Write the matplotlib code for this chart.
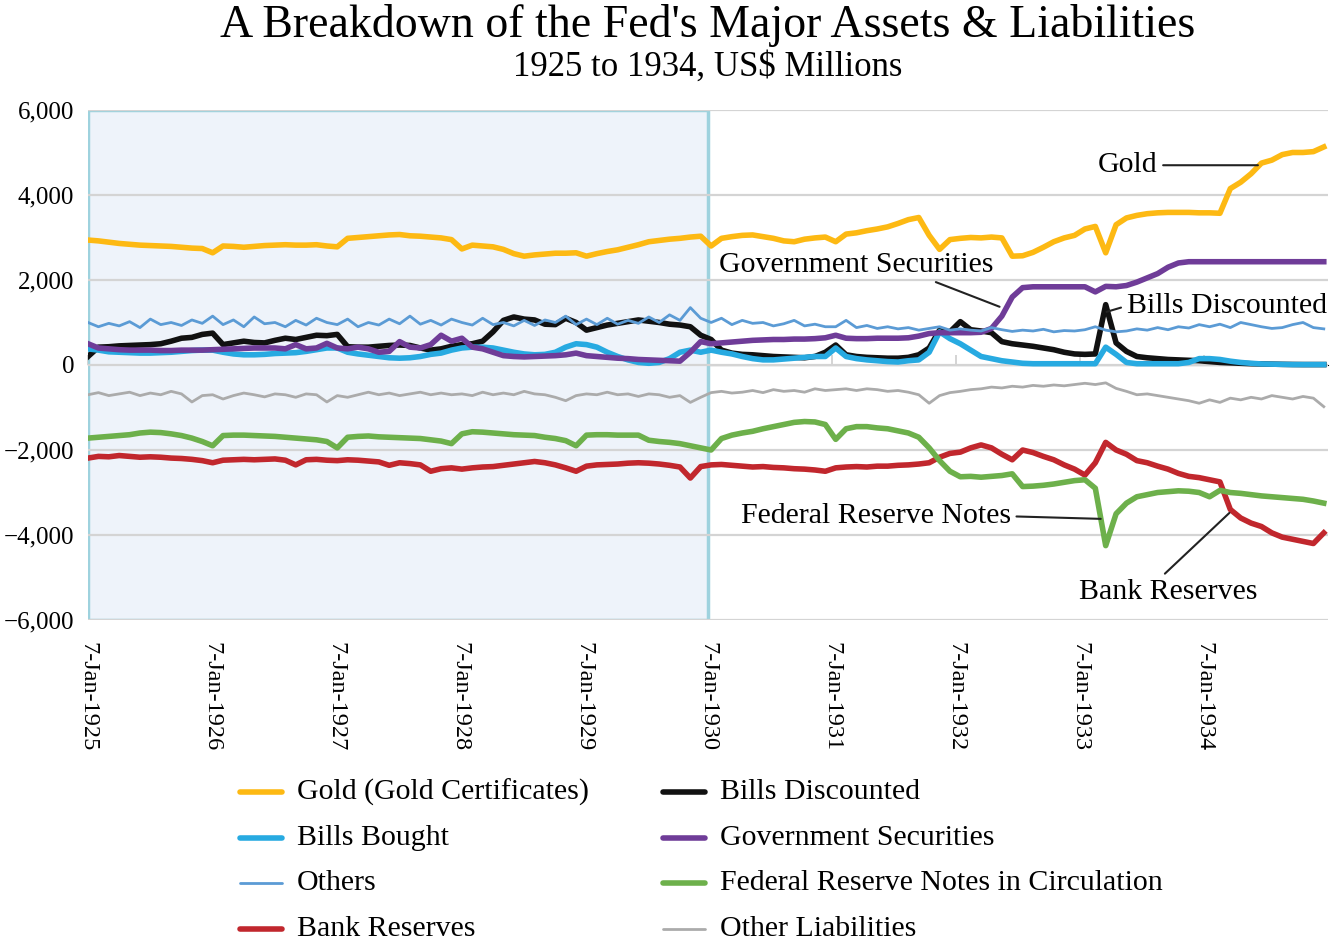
import numpy as np
import pandas as pd
import matplotlib
matplotlib.use("Agg")
import matplotlib.pyplot as plt
import matplotlib.dates as mdates
from matplotlib.lines import Line2D
from matplotlib.ticker import FuncFormatter

plt.rcParams["font.family"] = ["Liberation Serif", "DejaVu Serif"]

# ---- data (US$ millions, monthly readings, Jan 1925 .. Dec 1934) ----
gold = [
    2940, 2920, 2890, 2860, 2840, 2820, 2810, 2800, 2790, 2770, 2750, 2740,
    2640, 2800, 2790, 2770, 2790, 2810, 2820, 2830, 2820, 2820, 2830, 2800,
    2780, 2980, 3000, 3020, 3040, 3060, 3070, 3040, 3030, 3010, 2990, 2950,
    2730, 2820, 2800, 2780, 2720, 2620, 2560, 2590, 2610, 2630, 2630, 2640,
    2560, 2620, 2670, 2710, 2770, 2830, 2900, 2930, 2960, 2980, 3010, 3030,
    2800, 2980, 3020, 3050, 3060, 3020, 2980, 2920, 2900, 2960, 2990, 3010,
    2900, 3080, 3110, 3160, 3200, 3250, 3330, 3420, 3470, 3050, 2720, 2950,
    2980, 3000, 2990, 3010, 2990, 2560, 2570, 2650, 2770, 2900, 2990, 3050,
    3200, 3260, 2640, 3300, 3460, 3520, 3560, 3580, 3590, 3590, 3590, 3580,
    3580, 3570, 4150, 4300, 4500, 4750, 4820, 4950, 5000, 5000, 5020, 5130,
]
bills_discounted = [
    200, 420, 430, 450, 460, 470, 480, 500, 560, 630, 650, 720,
    750, 480, 520, 560, 530, 520, 580, 630, 600, 650, 700, 690,
    720, 430, 420, 420, 440, 460, 470, 460, 400, 350, 380, 440,
    480, 500, 560, 780, 1050, 1130, 1080, 1060, 960, 950, 1100, 1000,
    820, 880, 940, 980, 1020, 1060, 1030, 1000, 960, 940, 900, 700,
    600, 350, 280, 250, 240, 220, 200, 190, 180, 170, 200, 300,
    470, 240, 200, 180, 170, 160, 160, 180, 240, 400, 820, 780,
    1020, 830, 800, 760, 550, 500, 470, 440, 400, 360, 300, 260,
    250, 260, 1420, 520, 320, 200, 170, 150, 130, 120, 110, 100,
    80, 60, 50, 40, 30, 25, 20, 15, 12, 10, 10, 10,
]
bills_bought = [
    380, 350, 310, 300, 290, 280, 280, 290, 300, 320, 340, 350,
    350, 300, 260, 240, 240, 250, 270, 280, 290, 320, 360, 400,
    400, 300, 260, 230, 200, 170, 160, 170, 200, 250, 280, 350,
    400, 420, 420, 400, 350, 300, 260, 240, 250, 300, 420, 500,
    480, 420, 300, 200, 120, 60, 40, 60, 150, 300, 350, 300,
    350, 300, 260, 200, 150, 120, 120, 140, 160, 180, 200, 200,
    400, 200, 150, 120, 100, 80, 70, 100, 120, 300, 780, 620,
    500, 350, 200, 150, 100, 70, 40, 30, 30, 30, 30, 30,
    30, 30, 420, 250, 60, 30, 30, 30, 30, 30, 60, 150,
    150, 130, 90, 60, 40, 25, 20, 15, 10, 10, 10, 10,
]
gov_securities = [
    500, 400, 380, 360, 350, 350, 350, 340, 340, 350, 350, 350,
    360, 370, 380, 390, 400, 400, 400, 380, 480, 380, 400, 510,
    400, 380, 420, 380, 300, 320, 550, 420, 400, 480, 700, 560,
    630, 420, 380, 300, 220, 200, 190, 200, 210, 220, 240, 280,
    220, 200, 180, 160, 150, 130, 120, 110, 100, 90, 300, 550,
    500, 520, 540, 560, 580, 590, 600, 600, 610, 610, 620, 640,
    700, 630, 620, 620, 630, 630, 630, 640, 680, 740, 760, 760,
    760, 760, 770, 860, 1150, 1600, 1820, 1840, 1840, 1840, 1840, 1840,
    1840, 1720, 1850, 1840, 1870, 1950, 2050, 2150, 2300, 2400, 2430, 2430,
    2430, 2430, 2430, 2430, 2430, 2430, 2430, 2430, 2430, 2430, 2430, 2430,
]
others = [
    1000, 900, 980, 920, 1020, 880, 1080, 950, 1000, 930, 1060, 980,
    1150, 950, 1060, 900, 1130, 970, 1000, 900, 1050, 940, 1100, 1000,
    950, 1080, 900, 1000, 940, 1080, 970, 1150, 960, 1050, 940, 1080,
    1000, 940, 1100, 950, 1000, 920, 1050, 930, 1060, 1000, 1150, 950,
    1080, 950, 1100, 960, 1050, 980, 1130, 1000, 1180, 1050, 1350, 1100,
    1000, 1100, 950, 1050, 980, 1000, 920, 970, 1050, 920, 960, 900,
    900, 1050, 880, 930, 860, 900, 850, 880, 820, 860, 900, 820,
    850, 820, 800, 880, 830, 790, 820, 800, 840, 780, 810, 800,
    830, 900, 820, 780, 800, 850, 820, 880, 830, 900, 870, 950,
    900, 960, 880, 1000, 950, 900, 860, 880, 950, 1000, 880, 850,
]
fr_notes = [
    -1720, -1700, -1680, -1660, -1640, -1600, -1580, -1590, -1620, -1660, -1720, -1800,
    -1900, -1660, -1650, -1650, -1660, -1670, -1680, -1700, -1720, -1740, -1760, -1800,
    -1950, -1700, -1680, -1670, -1690, -1700, -1710, -1720, -1730, -1760, -1790, -1850,
    -1620, -1570, -1580, -1600, -1620, -1640, -1650, -1660, -1700, -1730, -1780, -1900,
    -1650, -1640, -1640, -1650, -1650, -1650, -1770, -1800, -1820, -1850, -1900, -1950,
    -2000, -1730, -1650, -1600, -1560, -1500, -1450, -1400, -1350, -1330, -1340, -1400,
    -1750, -1500, -1450, -1450, -1480, -1500, -1550, -1600, -1700, -1950, -2250, -2500,
    -2630, -2620, -2640, -2620, -2600, -2560, -2860, -2850, -2830, -2800, -2760, -2720,
    -2700, -2900, -4250, -3500, -3250, -3100, -3050, -3000, -2980, -2960, -2970, -3000,
    -3100, -2950, -3000, -3020, -3050, -3080, -3100, -3120, -3140, -3160, -3200, -3250,
]
bank_reserves = [
    -2190, -2150, -2160, -2130, -2150, -2170, -2160, -2170, -2190, -2200, -2220, -2250,
    -2300, -2240, -2230, -2220, -2230, -2220, -2210, -2240, -2350, -2230, -2220, -2240,
    -2250, -2230, -2240, -2260, -2280, -2360, -2300, -2320, -2350, -2500, -2440, -2420,
    -2450, -2420, -2400, -2390, -2360, -2330, -2300, -2270, -2300, -2350, -2420, -2500,
    -2380, -2350, -2340, -2330, -2310, -2300, -2310, -2330, -2360, -2400, -2660, -2390,
    -2350, -2340, -2360, -2380, -2400, -2390, -2410, -2420, -2440, -2450, -2470, -2500,
    -2420, -2400, -2390, -2400, -2380, -2380, -2360, -2350, -2330, -2300, -2170, -2080,
    -2050, -1950, -1880, -1950, -2100, -2230, -2000, -2060, -2150, -2230, -2350, -2450,
    -2590, -2300, -1820, -2000, -2100, -2250, -2300, -2380, -2450, -2550, -2620, -2650,
    -2700, -2750, -3400, -3600, -3720, -3800, -3950, -4050, -4100, -4150, -4200, -3950,
]
other_liabilities = [
    -700, -650, -720, -680, -640, -720, -660, -700, -620, -680, -870, -720,
    -700, -800, -720, -660, -700, -750, -680, -700, -760, -680, -700, -870,
    -720, -760, -700, -640, -700, -660, -720, -680, -640, -700, -660, -700,
    -680, -720, -640, -700, -660, -700, -620, -680, -700, -760, -840, -720,
    -680, -700, -640, -700, -680, -740, -680, -700, -760, -720, -880, -760,
    -650, -620, -660, -640, -600, -650, -580, -620, -600, -640, -560, -600,
    -580, -560, -600, -560, -580, -620, -600, -640, -700, -900, -720, -650,
    -620, -580, -560, -520, -540, -500, -520, -480, -500, -470, -490, -460,
    -430, -460, -420, -550, -620, -700, -680, -720, -760, -800, -840, -900,
    -820, -880, -780, -820, -760, -800, -720, -760, -800, -740, -780, -980,
]
dates = pd.date_range("1925-01-07", "1934-12-26", periods=len(gold))
year_ticks = pd.to_datetime([f"{y}-01-07" for y in range(1925, 1935)])

series = [
    # label, values, colour, width, zorder
    ("Gold (Gold Certificates)", gold, "#FDB913", 4.0, 3),
    ("Bills Bought", bills_bought, "#27AAE1", 4.0, 5),
    ("Others", others, "#5B9BD5", 2.0, 7),
    ("Bank Reserves", bank_reserves, "#C1272D", 4.0, 4),
    ("Bills Discounted", bills_discounted, "#111111", 4.0, 4.5),
    ("Government Securities", gov_securities, "#6F3C98", 4.0, 6),
    ("Federal Reserve Notes in Circulation", fr_notes, "#6DB04B", 4.0, 4),
    ("Other Liabilities", other_liabilities, "#ABABAB", 2.0, 3),
]

fig = plt.figure(figsize=(13.36, 9.44), dpi=100)
ax = fig.add_axes([0.0659, 0.3432, 0.928, 0.5403])

# shaded 1925-1930 block
x0 = mdates.date2num(pd.Timestamp("1925-01-07"))
x1 = mdates.date2num(pd.Timestamp("1930-01-07"))
ax.add_patch(plt.Rectangle((x0, -6000), x1 - x0, 12000, facecolor="#EEF3FA",
                           edgecolor="#9ED2DE", lw=2.5, zorder=1))

for label, vals, col, lw, z in series:
    ax.plot(dates, vals, color=col, lw=lw, zorder=z, solid_joinstyle="round")

ax.set_xlim(pd.Timestamp("1925-01-07"), pd.Timestamp("1935-01-07"))
ax.set_ylim(-6000, 6000)
ax.set_yticks(np.arange(-6000, 6001, 2000))
ax.yaxis.set_major_formatter(FuncFormatter(lambda v, p: f"{v:,.0f}".replace("-", "\u2212")))
ax.grid(axis="y", color="#D4D4D4", lw=1.6, zorder=2)
ax.set_axisbelow(False)
for s in ax.spines.values():
    s.set_visible(False)
ax.tick_params(axis="y", length=0, pad=10, labelsize=18)

ax.set_xticks(year_ticks)
ax.set_xticklabels([d.strftime("7-Jan-%Y") for d in year_ticks], rotation=270,
                   fontsize=17.5, va="top", ha="center")
ax.tick_params(axis="x", length=0, pad=16)

# little tick marks on the zero line
sec = ax.secondary_xaxis(0.5)
sec.set_xticks(year_ticks)
sec.set_xticklabels([])
sec.tick_params(axis="x", length=7, width=1.4, color="#D4D4D4", direction="out")
sec.spines["bottom"].set_visible(False)

# callouts
def callout(text, xy, xytext, relpos):
    ax.annotate(text, xy=(pd.Timestamp(xy[0]), xy[1]), xytext=(pd.Timestamp(xytext[0]), xytext[1]),
                fontsize=21.5, ha="center", va="center", zorder=9,
                bbox=dict(boxstyle="square,pad=0.1", fc="none", ec="none"),
                arrowprops=dict(arrowstyle="-", color="#222222", lw=1.5, relpos=relpos,
                                shrinkA=2, shrinkB=0))

callout("Gold", ("1934-06-15", 4700), ("1933-05-27", 4700), (1, 0.5))
callout("Government Securities", ("1932-05-15", 1370), ("1931-03-20", 2350), (0.74, 0.05))
callout("Bills Discounted", ("1933-03-26", 1250), ("1934-03-15", 1390), (0, 0.5))
callout("Federal Reserve Notes", ("1933-03-09", -3620), ("1931-05-16", -3560), (1, 0.5))
callout("Bank Reserves", ("1934-03-23", -3480), ("1933-09-25", -5330), (0.45, 1))

fig.text(0.53, 0.973, "A Breakdown of the Fed's Major Assets & Liabilities",
         ha="center", va="center", fontsize=33)
fig.text(0.53, 0.929, "1925 to 1934, US$ Millions", ha="center", va="center", fontsize=25)

# legend, two columns
for i, (label, vals, col, lw, z) in enumerate(series):
    c, r = divmod(i, 4)
    lx = (240 + 423 * c) / 1336
    ly = 1 - (792 + 45.7 * r) / 944
    fig.add_artist(Line2D([lx, lx + 42 / 1336], [ly, ly], color=col, lw=lw,
                          solid_capstyle="round"))
    fig.text(lx + 57 / 1336, ly, label, ha="left", va="center", fontsize=21.5)

fig.savefig("out.png", dpi=100)
